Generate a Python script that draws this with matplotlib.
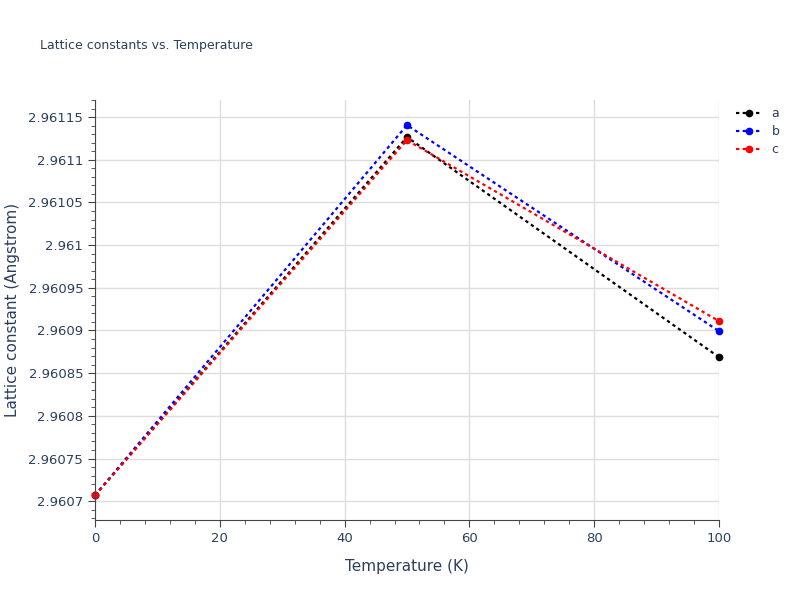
import matplotlib
matplotlib.use("Agg")
import matplotlib.pyplot as plt
from matplotlib.ticker import MultipleLocator, FuncFormatter

temps = [0, 50, 100]
a_vals = [2.960707, 2.9611266, 2.9608687]
b_vals = [2.960707, 2.9611406, 2.9608992]
c_vals = [2.960707, 2.9611230, 2.9609110]
names = ["a", "b", "c"]
colors = ["black", "blue", "red"]

fig = plt.figure(figsize=(8, 6), dpi=100)
ax = fig.add_axes([95/800, 1-520/600, 624/800, 420/600])
for vals, n, c in zip([a_vals, b_vals, c_vals], names, colors):
    ax.plot(temps, vals, linestyle=(0, (1.5, 1.5)), color=c, lw=1.6, marker="o", ms=4.5, label=n, clip_on=False)

ax.set_xlim(0, 100)
ax.set_ylim(2.960678, 2.96117)
ax.xaxis.set_major_locator(MultipleLocator(20))
ax.yaxis.set_major_locator(MultipleLocator(0.00005))
ax.yaxis.set_minor_locator(MultipleLocator(0.00001))
ax.xaxis.set_minor_locator(MultipleLocator(4))
ax.yaxis.set_major_formatter(FuncFormatter(lambda v, p: ("%.5f" % v).rstrip("0").rstrip(".")))
ax.grid(True, which="major", color="#dddddd", lw=1)
ax.set_axisbelow(True)
for s in ["top", "right"]:
    ax.spines[s].set_visible(False)
for s in ["left", "bottom"]:
    ax.spines[s].set_color("#444444")
ax.tick_params(which="major", direction="out", length=5, colors="#444444", labelsize=9.5, labelcolor="#2a3f5f")
ax.tick_params(which="minor", direction="out", length=3, colors="#444444")
ax.set_xlabel("Temperature (K)", fontsize=11, color="#2a3f5f", labelpad=10)
ax.set_ylabel("Lattice constant (Angstrom)", fontsize=11, color="#2a3f5f", labelpad=6)
fig.text(40/800, 1-45/600, "Lattice constants vs. Temperature", fontsize=9, color="#2a3f5f", va="center")
ax.legend(loc="upper left", bbox_to_anchor=(1.01, 1.01), frameon=False, fontsize=9, labelcolor="#2a3f5f", handlelength=2, labelspacing=0.4)
fig.savefig("out.png")
